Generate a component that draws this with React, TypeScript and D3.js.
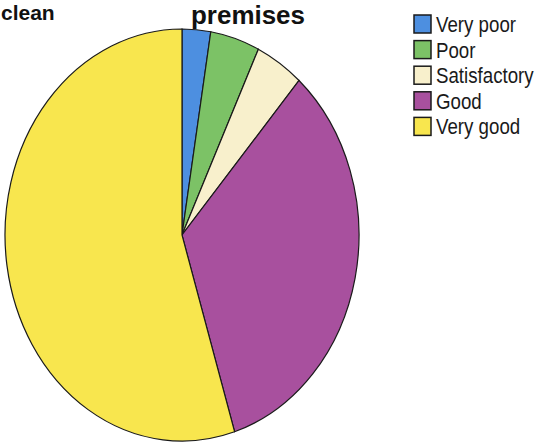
import React from "react";
import * as d3 from "d3";

const categories = ["Very poor", "Poor", "Satisfactory", "Good", "Very good"];
const values = [2.6, 4.5, 4.4, 33.7, 54.8];
const colors = ["#4d8fe0", "#7cc266", "#f8f0cc", "#a8509e", "#f8e64e"];

const W = 538;
const H = 446;
const cx = 182;
const cy = 235;
const rx = 177;
const ry = 206;
const R = 100;

export default function App() {
  const pie = d3.pie<number>().sort(null).value((d) => d);
  const arcs = pie(values);
  const arc = d3.arc<d3.PieArcDatum<number>>().innerRadius(0).outerRadius(R);

  const legendY = d3.scaleBand<string>().domain(categories).range([15, 143]).paddingInner(0);

  return (
    <svg
      width={W}
      height={H}
      style={{ position: "absolute", left: 0, top: 0, background: "#fff" }}
      fontFamily="Liberation Sans, Arial, sans-serif"
    >
      <rect width={W} height={H} fill="#fff" />
      <text x={1} y={20} fontSize={21} fontWeight="bold" fill="#111">
        clean
      </text>
      <text x={248} y={24} fontSize={26} fontWeight="bold" fill="#111" textAnchor="middle" textLength={114} lengthAdjust="spacingAndGlyphs">
        premises
      </text>
      <g transform={`translate(${cx},${cy}) scale(${rx / R},${ry / R})`}>
        {arcs.map((a, i) => (
          <path
            key={categories[i]}
            d={arc(a) || ""}
            fill={colors[i]}
            stroke="#1a1a1a"
            strokeWidth={1.2}
            vectorEffect="non-scaling-stroke"
          />
        ))}
      </g>
      <g>
        {categories.map((c, i) => {
          const y = legendY(c)!;
          return (
            <g key={c}>
              <rect x={414} y={y} width={17} height={18} fill={colors[i]} stroke="#1a1a1a" strokeWidth={1.5} />
              <g transform={`translate(436,${y + 17}) scale(0.85,1)`}>
                <text x={0} y={0} fontSize={22} fill="#1a1a1a">
                  {c}
                </text>
              </g>
            </g>
          );
        })}
      </g>
    </svg>
  );
}
